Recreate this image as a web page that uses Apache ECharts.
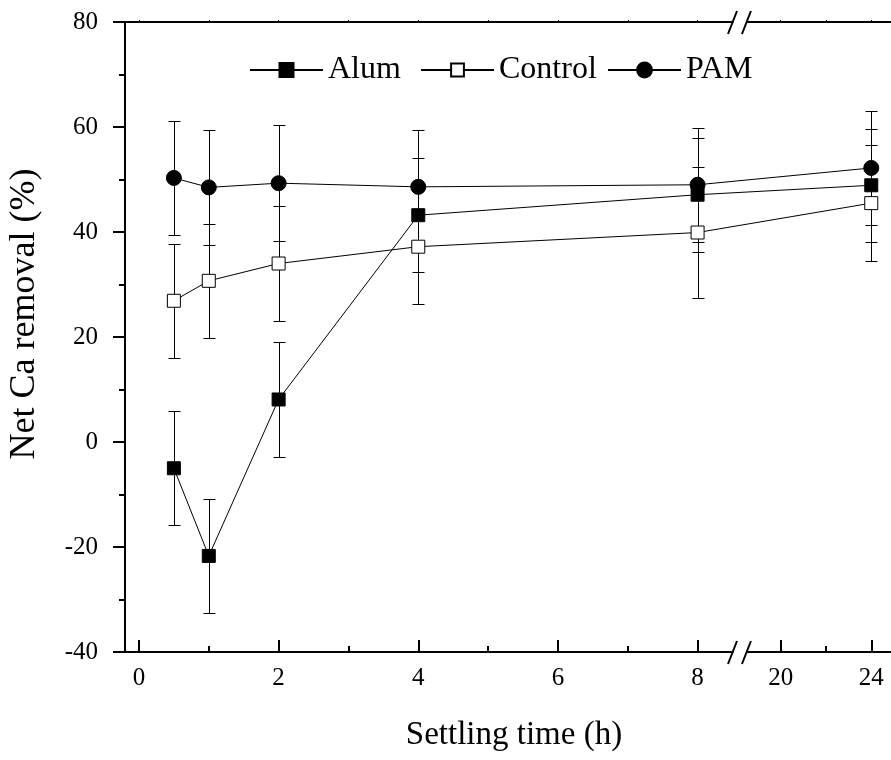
<!DOCTYPE html>
<html>
<head>
<meta charset="utf-8">
<title>Net Ca removal vs settling time</title>
<script src="https://cdn.jsdelivr.net/npm/echarts@6/dist/echarts.min.js"></script>
<style>
  html, body { margin: 0; padding: 0; background: #fff; }
  #chart { width: 891px; height: 760px; }
</style>
</head>
<body>
<div id="chart"></div>
<script>
// Settling times (h) and net Ca removal (%) with their error bars
const hours = [0.5, 1, 2, 4, 8, 24];
const alum = [-5.0, -21.7, 8.1, 43.2, 47.1, 48.9];
const alumErr = [10.9, 10.8, 10.9, 10.9, 10.9, 10.8];
const control = [26.9, 30.7, 34.0, 37.2, 39.9, 45.5];
const controlErr = [10.9, 10.9, 10.9, 11.0, 12.4, 11.0];
const pam = [50.3, 48.5, 49.3, 48.6, 49.0, 52.2];
const pamErr = [10.9, 11.0, 11.0, 10.9, 10.9, 10.8];

// Axis ticks (h)
const xMajorTicks = [0, 2, 4, 6, 8, 20, 24];
const xMinorTicks = [1, 3, 5, 7, 22];
const xTopTicks = [0, 1, 2, 3, 4, 5, 6, 7, 8, 20, 22, 24];

// Broken time axis: 0-8 h on the full scale, 20-24 h compressed after the break
const BREAK_FROM = 8.5;
const BREAK_TO = 8.7;
const SEG2_ORIGIN = 9.19;   // axis position of 20 h
const SEG2_SCALE = 0.3243;  // axis units per hour after the break
function axisPos(h) {
  return h < BREAK_FROM ? h : SEG2_ORIGIN + (h - 20) * SEG2_SCALE;
}
function hourLabel(v) {
  const h = xMajorTicks.find(t => Math.abs(axisPos(t) - v) < 1e-6);
  return h === undefined ? '' : String(h);
}

const FONT = "'Liberation Serif', 'Times New Roman', serif";
const X_MIN = -0.2, X_MAX = 10.77;

const chart = echarts.init(document.getElementById('chart'), null, { renderer: 'canvas' });

function errorBarSeries(values, errs) {
  return {
    type: 'custom',
    silent: true,
    data: hours.map((h, i) => [axisPos(h), values[i] - errs[i], values[i] + errs[i]]),
    encode: { x: 0, y: [1, 2] },
    renderItem: function (params, api) {
      const lo = api.coord([api.value(0), api.value(1)]);
      const hi = api.coord([api.value(0), api.value(2)]);
      const x = Math.round(lo[0]) + 0.5;
      const yl = Math.round(lo[1]) + 0.5;
      const yh = Math.round(hi[1]) + 0.5;
      const style = { stroke: '#000', lineWidth: 1 };
      return {
        type: 'group',
        children: [
          { type: 'line', shape: { x1: x, y1: yl, x2: x, y2: yh }, style: style },
          { type: 'line', shape: { x1: x - 6, y1: yl, x2: x + 6, y2: yl }, style: style },
          { type: 'line', shape: { x1: x - 6, y1: yh, x2: x + 6, y2: yh }, style: style }
        ]
      };
    }
  };
}

function lineSeries(name, values, symbol, size, fill) {
  return {
    name: name,
    type: 'line',
    data: hours.map((h, i) => [axisPos(h), values[i]]),
    symbol: symbol,
    symbolSize: size,
    showAllSymbol: true,
    lineStyle: { color: '#000', width: 1 },
    itemStyle: { color: fill, borderColor: '#000', borderWidth: 1 },
    emphasis: { disabled: true }
  };
}

const legendBase = {
  orient: 'horizontal',
  top: 54,
  z: 10,
  padding: 0,
  itemWidth: 73,
  itemHeight: 17.5,
  textStyle: { fontFamily: FONT, fontSize: 32, color: '#000' },
  selectedMode: false
};

chart.setOption({
  animation: false,
  backgroundColor: '#fff',
  grid: { left: 125, right: 0, top: 22, bottom: 108, containLabel: false, outerBoundsMode: 'none' },
  legend: [
    Object.assign({}, legendBase, { left: 249, data: ['Alum'] }),
    Object.assign({}, legendBase, { left: 420, data: ['Control'], itemHeight: 16 }),
    Object.assign({}, legendBase, { left: 607, data: ['PAM'], itemHeight: 18.5 })
  ],
  xAxis: [
    {
      type: 'value', min: X_MIN, max: X_MAX, position: 'bottom',
      name: 'Settling time (h)', nameLocation: 'middle', nameGap: 83,
      nameTextStyle: { fontFamily: FONT, fontSize: 33, color: '#000', verticalAlign: 'middle', padding: [0, 0, 0, 12] },
      axisLine: { show: true, onZero: false, lineStyle: { color: '#000', width: 2 } },
      axisTick: { show: true, inside: true, length: 12, lineStyle: { color: '#000', width: 2 },
                  customValues: xMajorTicks.map(axisPos) },
      axisLabel: { show: true, margin: 14, fontFamily: FONT, fontSize: 25, color: '#000',
                   customValues: xMajorTicks.map(axisPos), formatter: hourLabel },
      splitLine: { show: false }
    },
    {
      type: 'value', min: X_MIN, max: X_MAX, position: 'bottom',
      axisLine: { show: false, onZero: false },
      axisTick: { show: true, inside: true, length: 6, lineStyle: { color: '#000', width: 2 },
                  customValues: xMinorTicks.map(axisPos) },
      axisLabel: { show: false },
      splitLine: { show: false }
    },
    {
      type: 'value', min: X_MIN, max: X_MAX, position: 'top',
      axisLine: { show: true, onZero: false, lineStyle: { color: '#000', width: 2 } },
      axisTick: { show: true, inside: false, length: 2, lineStyle: { color: '#000', width: 1 },
                  customValues: xTopTicks.map(axisPos) },
      axisLabel: { show: false },
      splitLine: { show: false }
    }
  ],
  yAxis: {
    type: 'value', min: -40, max: 80, interval: 20,
    name: 'Net Ca removal (%)', nameLocation: 'middle', nameGap: 100, nameRotate: 90,
    nameTextStyle: { fontFamily: FONT, fontSize: 36, color: '#000', verticalAlign: 'middle', padding: [0, 0, 0, 46] },
    axisLine: { show: true, onZero: false, lineStyle: { color: '#000', width: 2 } },
    axisTick: { show: true, inside: false, length: 12, lineStyle: { color: '#000', width: 2 } },
    minorTick: { show: true, splitNumber: 2, length: 6, lineStyle: { color: '#000', width: 2 } },
    axisLabel: { margin: 27, fontFamily: FONT, fontSize: 25, color: '#000' },
    splitLine: { show: false }
  },
  series: [
    errorBarSeries(alum, alumErr),
    lineSeries('Alum', alum, 'rect', 13, '#000'),
    errorBarSeries(control, controlErr),
    lineSeries('Control', control, 'rect', 13, '#fff'),
    errorBarSeries(pam, pamErr),
    lineSeries('PAM', pam, 'circle', 15, '#000')
  ]
});

// Axis break: clear a narrow strip and mark it with "//" on both horizontal axes
const bx1 = chart.convertToPixel({ xAxisIndex: 0 }, BREAK_FROM);
const bx2 = chart.convertToPixel({ xAxisIndex: 0 }, BREAK_TO);
const yTop = chart.convertToPixel({ yAxisIndex: 0 }, 80);
const yBottom = chart.convertToPixel({ yAxisIndex: 0 }, -40);
function slash(cx, cy) {
  return {
    type: 'line', z: 6,
    shape: { x1: cx - 4.5, y1: cy + 12, x2: cx + 4.5, y2: cy - 11 },
    style: { stroke: '#000', lineWidth: 2 }
  };
}
chart.setOption({
  graphic: [
    { type: 'rect', z: 3, shape: { x: bx1 + 1, y: yTop - 3, width: bx2 - bx1 - 1, height: yBottom - yTop + 6 },
      style: { fill: '#fff' }, silent: true },
    slash(bx1, yTop), slash(bx2, yTop),
    slash(bx1, yBottom), slash(bx2, yBottom)
  ]
});
</script>
</body>
</html>
